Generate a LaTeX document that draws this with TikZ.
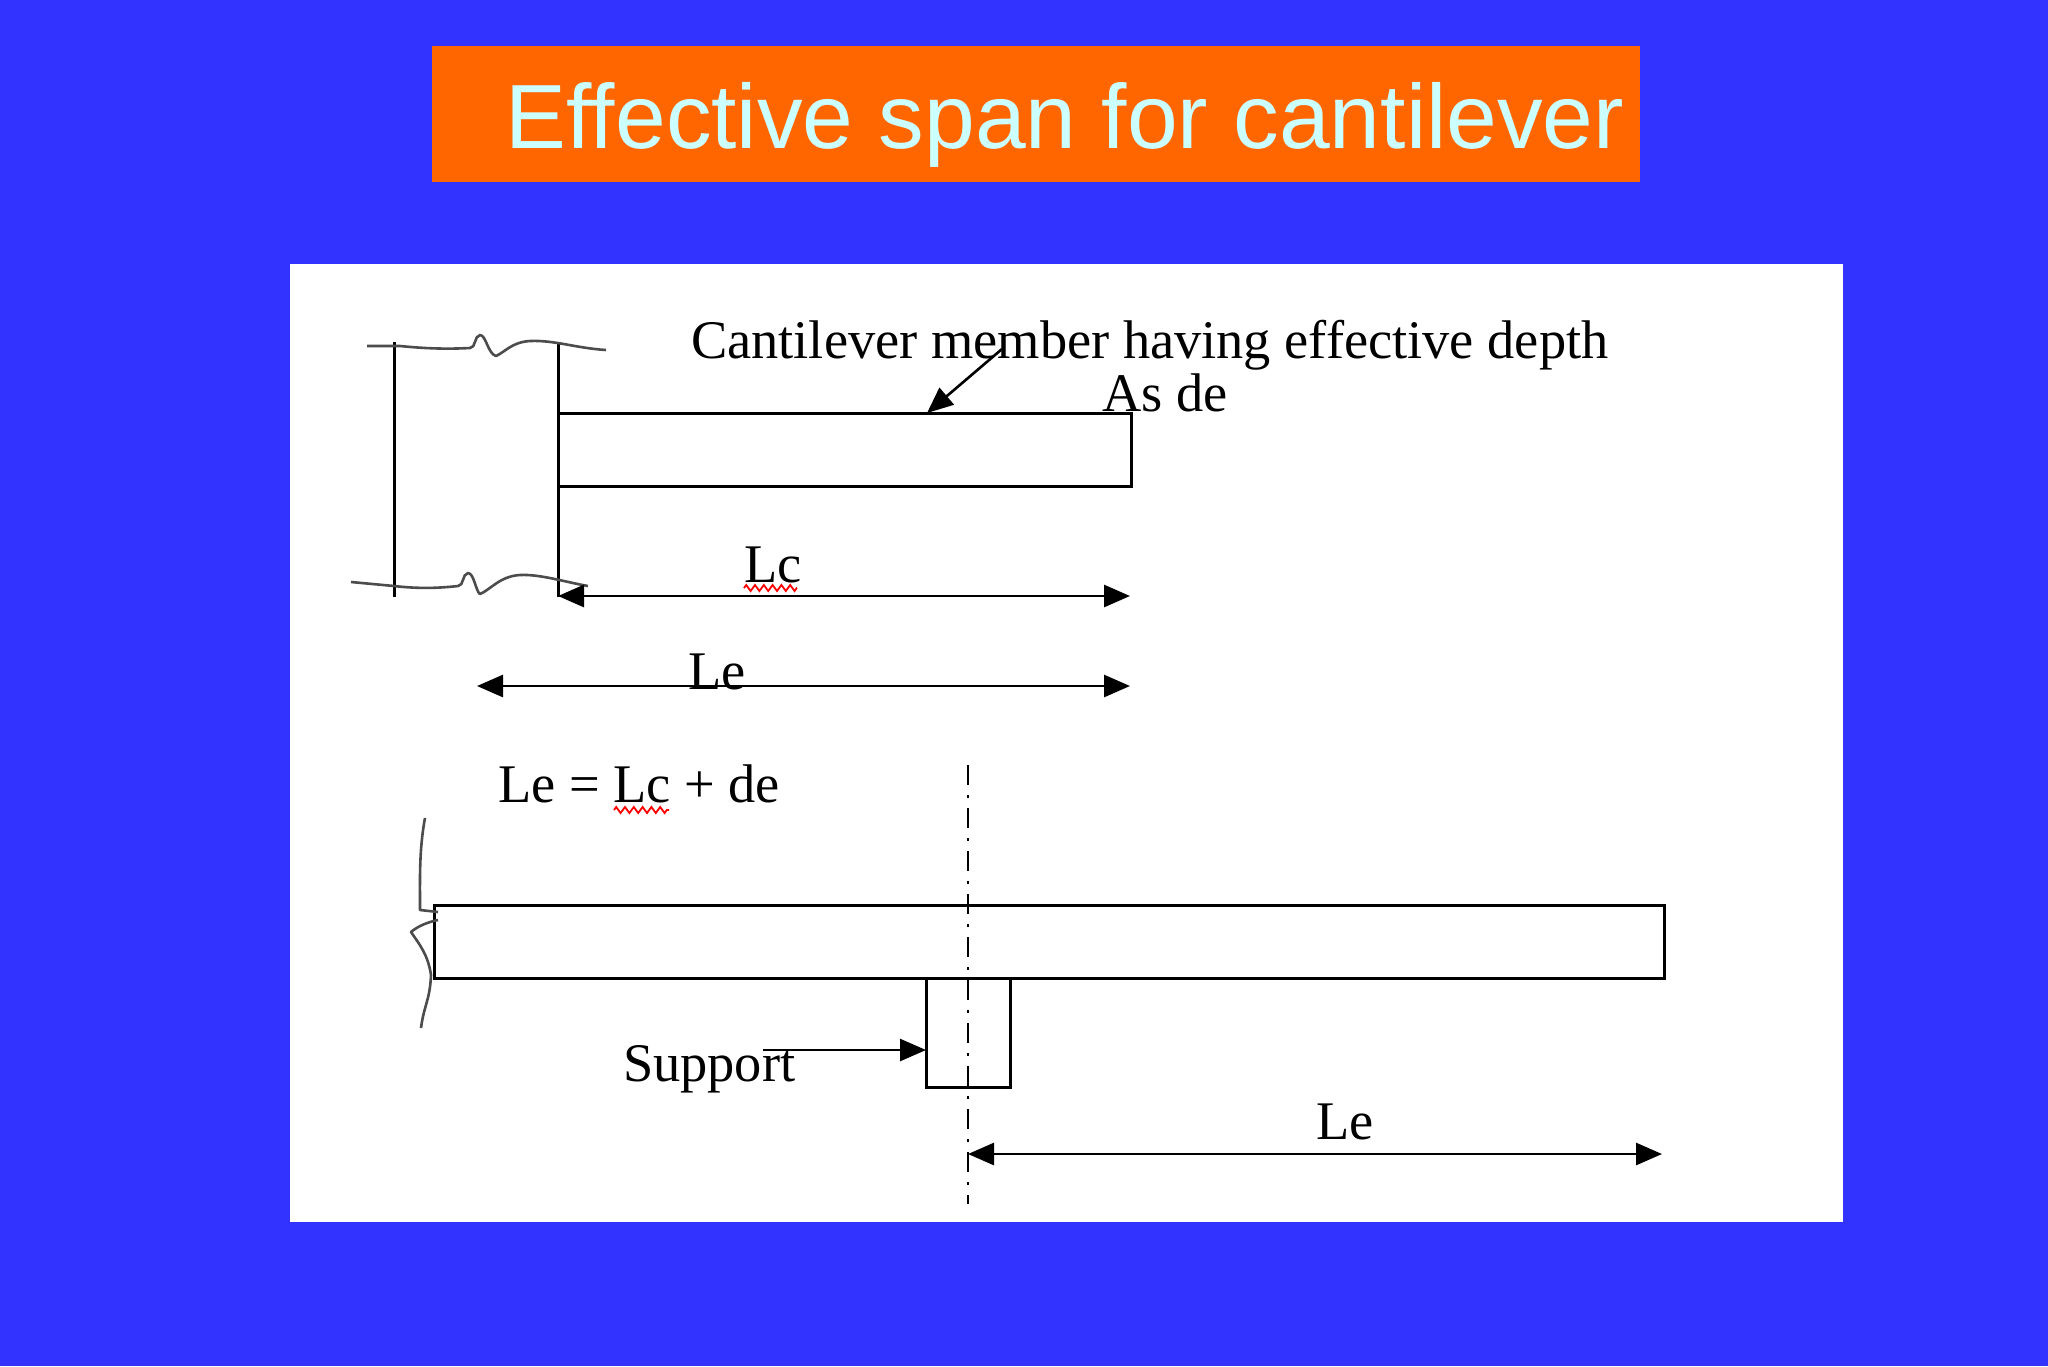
\documentclass[tikz,border=0pt]{standalone}
\usepackage{fontspec}
\setmainfont{Liberation Serif}
\newfontfamily\titlefont{Liberation Sans}
\usetikzlibrary{arrows.meta,decorations.pathmorphing}
\definecolor{slideblue}{HTML}{3333FF}
\definecolor{titleorange}{HTML}{FF6600}
\definecolor{titletext}{HTML}{CCFFFF}
\tikzset{
  member/.style={draw=black,line width=1.5pt,fill=none},
  edgeline/.style={black,line width=1.5pt},
  breakline/.style={draw=black!70,line width=1.3pt,line join=round},
  dim/.style={black,line width=1.4pt,{Triangle[length=13pt,width=11pt]}-{Triangle[length=13pt,width=11pt]}},
  pointer/.style={black,line width=1.3pt,-{Triangle[length=13pt,width=11pt]}},
  label/.style={anchor=base west,inner sep=0pt,outer sep=0pt,black,font=\fontsize{27.2}{30}\selectfont},
  spell/.style={red,line width=0.9pt,decorate,decoration={zigzag,segment length=4.4pt,amplitude=1.5pt}},
  centre/.style={black,line width=1.1pt,dash pattern=on 10pt off 5pt on 1.5pt off 5pt}
}
\begin{document}
\begin{tikzpicture}[x=0.5pt,y=-0.5pt]
\useasboundingbox (0,0) rectangle (2048,1366);
\fill[slideblue] (0,0) rectangle (2048,1366);
\node[fill=titleorange,minimum width=604pt,minimum height=68pt,inner sep=0pt,anchor=north west] (titlebar) at (432,46) {};
\node[anchor=base west,inner sep=0pt,text=titletext,font=\titlefont\fontsize{45.6}{50}\selectfont] (title) at (505,148) {Effective span for cantilever};
\fill[white] (290,264) rectangle (1843,1222);

% upper cantilever
\coordinate (coltl) at (394,342);
\coordinate (colbl) at (394,597);
\coordinate (coltr) at (558,342);
\coordinate (colbr) at (558,597);
\draw[edgeline] (coltl) -- (colbl);
\draw[edgeline] (coltr) -- (colbr);
\draw[member] (558,413) rectangle (1131,486);
\draw[breakline] (367,346) -- (400,346) .. controls (430,349) and (450,349) .. (470,348)
  .. controls (476,348) and (474,336) .. (480,335) .. controls (486,335) and (488,354) .. (496,356)
  .. controls (505,352) and (512,342) .. (530,341) .. controls (555,340) and (575,348) .. (606,350);
\draw[breakline] (351,582) -- (394,586) .. controls (420,589) and (440,588) .. (458,586)
  .. controls (464,586) and (462,574) .. (468,573) .. controls (474,573) and (476,592) .. (480,594)
  .. controls (490,590) and (500,576) .. (520,575) .. controls (540,574) and (565,582) .. (588,586);

% labels, upper part
\node[label] (heading) at (691,358) {Cantilever member having effective depth};
\node[label] (asde) at (1102,411) {As de};
\node[label] (lc) at (744,582) {Lc};
\node[label] (letop) at (688,689) {Le};
\node[label] (formula) at (498,802) {Le = Lc + de};
\draw[spell] (744,588) -- (797,588);
\draw[spell] (614,810) -- (669,810);

% dimensions, upper part
\coordinate (memberfrom) at (1002,349);
\coordinate (memberto) at (927,413);
\draw[pointer] (memberfrom) -- (memberto);
\coordinate (lcl) at (558,596);
\coordinate (lcr) at (1130,596);
\draw[dim] (lcl) -- (lcr);
\coordinate (lel) at (477,686);
\coordinate (ler) at (1130,686);
\draw[dim] (lel) -- (ler);

% lower beam
\coordinate (cltop) at (968,765);
\coordinate (clbot) at (968,1204);
\draw[member] (434,905) rectangle (1664,978);
\draw[member] (926,978) rectangle (1010,1087);
\draw[centre] (cltop) -- (clbot);
\draw[breakline] (425,818) .. controls (419,850) and (420,880) .. (420,910) -- (438,912);
\draw[breakline] (438,920) .. controls (428,922) and (418,926) .. (411,932)
  .. controls (420,945) and (428,955) .. (431,975) .. controls (430,1000) and (424,1005) .. (421,1028);

% labels and arrows, lower part
\node[label] (support) at (623,1081) {Support};
\coordinate (supfrom) at (763,1050);
\coordinate (supto) at (926,1050);
\draw[pointer] (supfrom) -- (supto);
\node[label] (lelow) at (1316,1139) {Le};
\coordinate (lll) at (968,1154);
\coordinate (llr) at (1662,1154);
\draw[dim] (lll) -- (llr);
\end{tikzpicture}
\end{document}
